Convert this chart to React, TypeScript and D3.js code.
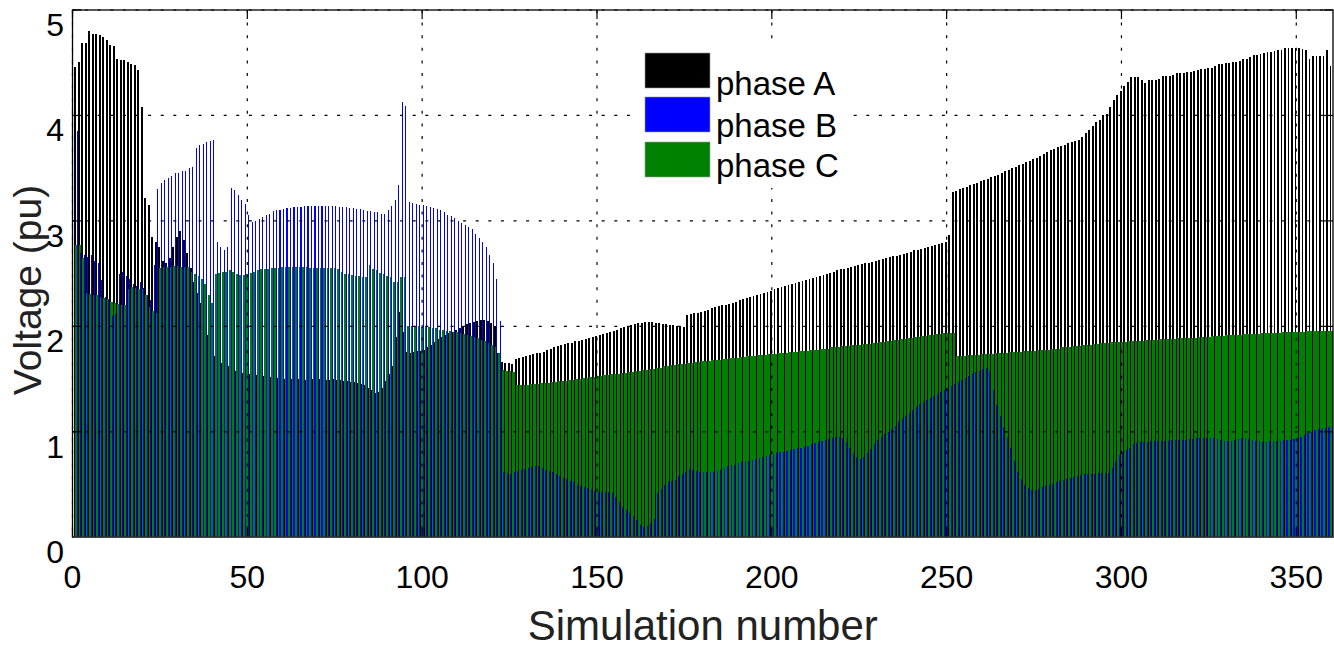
import React from 'react';
import * as d3 from 'd3';

// Simulation results (pu), simulations 1..360
const phaseA: number[] = [
  4.46, 4.51, 4.69, 4.69, 4.80, 4.77, 4.77, 4.76, 4.74, 4.72, 4.67, 4.66, 4.54, 4.53, 4.53, 4.51, 4.49, 4.48, 4.43, 4.08,
  3.22, 3.15, 2.85, 2.80, 2.75, 2.62, 2.60, 2.65, 2.75, 2.85, 2.90, 2.82, 2.70, 2.55, 2.42, 2.32, 2.22, 2.10, 1.92, 1.78,
  1.72, 1.68, 1.65, 1.63, 1.62, 1.60, 1.58, 1.57, 1.56, 1.55, 1.55, 1.54, 1.54, 1.53, 1.53, 1.52, 1.52, 1.52, 1.51, 1.51,
  1.50, 1.50, 1.50, 1.51, 1.50, 1.50, 1.49, 1.50, 1.50, 1.49, 1.50, 1.50, 1.49, 1.49, 1.50, 1.49, 1.49, 1.48, 1.48, 1.47,
  1.47, 1.46, 1.45, 1.44, 1.42, 1.40, 1.37, 1.38, 1.42, 1.48, 1.55, 1.62, 1.90, 2.14, 1.95, 1.76, 1.75, 1.76, 1.77, 1.77,
  1.78, 1.80, 1.82, 1.85, 1.88, 1.90, 1.92, 1.94, 1.95, 1.97, 1.98, 2.00, 2.02, 2.03, 2.04, 2.05, 2.06, 2.06, 2.05, 2.03,
  2.00, 1.75, 1.66, 1.65, 1.65, 1.64, 1.69, 1.70, 1.71, 1.72, 1.73, 1.74, 1.75, 1.75, 1.76, 1.78, 1.79, 1.80, 1.81, 1.82,
  1.83, 1.84, 1.84, 1.86, 1.86, 1.87, 1.88, 1.89, 1.90, 1.91, 1.92, 1.93, 1.94, 1.95, 1.96, 1.97, 1.98, 1.99, 2.00, 2.01,
  2.02, 2.03, 2.03, 2.04, 2.04, 2.04, 2.03, 2.03, 2.02, 2.02, 2.01, 2.01, 2.00, 2.00, 1.99, 2.11, 2.12, 2.13, 2.13, 2.14,
  2.15, 2.16, 2.17, 2.18, 2.19, 2.20, 2.20, 2.21, 2.22, 2.23, 2.25, 2.26, 2.27, 2.28, 2.29, 2.30, 2.31, 2.32, 2.33, 2.34,
  2.35, 2.36, 2.37, 2.38, 2.39, 2.40, 2.41, 2.42, 2.43, 2.44, 2.45, 2.46, 2.47, 2.48, 2.49, 2.50, 2.51, 2.52, 2.53, 2.54,
  2.54, 2.55, 2.56, 2.57, 2.58, 2.59, 2.60, 2.60, 2.61, 2.62, 2.63, 2.64, 2.65, 2.66, 2.67, 2.67, 2.68, 2.69, 2.70, 2.71,
  2.72, 2.72, 2.73, 2.74, 2.75, 2.76, 2.77, 2.78, 2.79, 2.80, 2.87, 3.27, 3.28, 3.30, 3.31, 3.32, 3.34, 3.35, 3.36, 3.38,
  3.39, 3.40, 3.42, 3.43, 3.44, 3.45, 3.47, 3.48, 3.50, 3.51, 3.53, 3.54, 3.56, 3.57, 3.59, 3.60, 3.62, 3.63, 3.65, 3.67,
  3.68, 3.70, 3.71, 3.72, 3.74, 3.75, 3.76, 3.77, 3.80, 3.83, 3.86, 3.90, 3.94, 3.96, 4.00, 4.01, 4.08, 4.15, 4.19, 4.23,
  4.28, 4.32, 4.36, 4.36, 4.36, 4.34, 4.31, 4.34, 4.34, 4.34, 4.35, 4.37, 4.37, 4.37, 4.38, 4.40, 4.40, 4.40, 4.41, 4.41,
  4.42, 4.43, 4.44, 4.44, 4.45, 4.45, 4.47, 4.49, 4.49, 4.50, 4.50, 4.51, 4.51, 4.52, 4.54, 4.54, 4.55, 4.57, 4.57, 4.58,
  4.59, 4.60, 4.60, 4.61, 4.62, 4.62, 4.64, 4.64, 4.64, 4.64, 4.64, 4.63, 4.62, 4.54, 4.56, 4.56, 4.56, 4.56, 4.62, 4.47,
];

const phaseB: number[] = [
  3.85, 2.70, 2.68, 2.66, 2.68, 2.62, 2.60, 2.44, 2.28, 2.25, 2.10, 2.12, 2.50, 2.52, 2.48, 2.45, 2.40, 2.38, 2.42, 2.36,
  2.30, 2.25, 2.58, 3.30, 3.36, 3.39, 3.41, 3.43, 3.45, 3.45, 3.47, 3.47, 3.50, 3.51, 3.69, 3.72, 3.73, 3.75, 3.76, 3.77,
  2.80, 2.75, 2.72, 2.75, 3.31, 3.29, 3.25, 3.20, 3.16, 3.06, 2.99, 3.00, 3.02, 3.04, 3.06, 3.07, 3.09, 3.10, 3.10, 3.11,
  3.12, 3.12, 3.13, 3.13, 3.13, 3.14, 3.14, 3.14, 3.14, 3.14, 3.14, 3.14, 3.14, 3.14, 3.14, 3.13, 3.13, 3.13, 3.12, 3.12,
  3.11, 3.11, 3.10, 3.09, 3.09, 3.08, 3.08, 3.07, 3.07, 3.10, 3.14, 3.20, 3.34, 4.13, 4.09, 3.18, 3.17, 3.16, 3.15, 3.15,
  3.14, 3.13, 3.12, 3.11, 3.10, 3.08, 3.06, 3.05, 3.03, 3.00, 2.98, 2.96, 2.94, 2.92, 2.88, 2.84, 2.80, 2.75, 2.68, 2.60,
  2.45, 2.05, 0.62, 0.61, 0.60, 0.62, 0.63, 0.64, 0.65, 0.66, 0.67, 0.68, 0.68, 0.66, 0.64, 0.63, 0.62, 0.60, 0.58, 0.56,
  0.55, 0.53, 0.52, 0.50, 0.49, 0.48, 0.47, 0.46, 0.44, 0.43, 0.43, 0.43, 0.43, 0.42, 0.38, 0.33, 0.29, 0.26, 0.23, 0.20,
  0.16, 0.12, 0.10, 0.11, 0.14, 0.17, 0.42, 0.46, 0.50, 0.52, 0.53, 0.54, 0.58, 0.60, 0.62, 0.65, 0.64, 0.63, 0.62, 0.62,
  0.62, 0.62, 0.62, 0.63, 0.64, 0.66, 0.68, 0.69, 0.69, 0.70, 0.71, 0.72, 0.72, 0.73, 0.74, 0.75, 0.76, 0.77, 0.78, 0.79,
  0.80, 0.81, 0.81, 0.82, 0.83, 0.84, 0.85, 0.85, 0.86, 0.87, 0.88, 0.89, 0.90, 0.91, 0.92, 0.93, 0.94, 0.95, 0.95, 0.94,
  0.90, 0.85, 0.80, 0.76, 0.74, 0.76, 0.80, 0.84, 0.88, 0.92, 0.95, 0.98, 1.00, 1.03, 1.06, 1.09, 1.12, 1.15, 1.18, 1.21,
  1.24, 1.26, 1.28, 1.30, 1.32, 1.34, 1.36, 1.38, 1.40, 1.41, 1.43, 1.45, 1.47, 1.49, 1.51, 1.53, 1.55, 1.57, 1.58, 1.60,
  1.61, 1.58, 1.40, 1.25, 1.15, 1.05, 0.95, 0.85, 0.72, 0.62, 0.55, 0.50, 0.47, 0.45, 0.45, 0.46, 0.48, 0.49, 0.50, 0.51,
  0.52, 0.53, 0.54, 0.55, 0.56, 0.57, 0.58, 0.59, 0.60, 0.60, 0.60, 0.60, 0.61, 0.61, 0.61, 0.61, 0.66, 0.72, 0.78, 0.81,
  0.83, 0.85, 0.88, 0.89, 0.90, 0.90, 0.90, 0.91, 0.91, 0.91, 0.91, 0.91, 0.91, 0.92, 0.92, 0.92, 0.92, 0.92, 0.93, 0.93,
  0.94, 0.94, 0.94, 0.94, 0.94, 0.94, 0.93, 0.92, 0.91, 0.91, 0.91, 0.92, 0.93, 0.94, 0.94, 0.93, 0.92, 0.91, 0.91, 0.90,
  0.90, 0.91, 0.91, 0.91, 0.91, 0.92, 0.92, 0.92, 0.93, 0.94, 0.95, 0.97, 0.99, 1.00, 1.02, 1.03, 1.03, 1.04, 1.05, 1.06,
];

const phaseC: number[] = [
  2.77, 2.77, 2.65, 2.32, 2.31, 2.30, 2.30, 2.28, 2.27, 2.26, 2.23, 2.22, 2.21, 2.20, 2.20, 2.35, 2.37, 2.36, 2.35, 2.35,
  2.30, 2.18, 2.15, 2.13, 2.55, 2.56, 2.56, 2.56, 2.57, 2.57, 2.56, 2.56, 2.56, 2.52, 2.50, 2.48, 2.45, 2.40, 2.30, 2.22,
  2.50, 2.51, 2.52, 2.52, 2.53, 2.52, 2.50, 2.49, 2.49, 2.50, 2.51, 2.52, 2.53, 2.54, 2.54, 2.54, 2.55, 2.55, 2.55, 2.56,
  2.56, 2.56, 2.56, 2.56, 2.56, 2.56, 2.56, 2.55, 2.55, 2.55, 2.55, 2.55, 2.55, 2.55, 2.55, 2.54, 2.52, 2.50, 2.50, 2.49,
  2.48, 2.48, 2.47, 2.47, 2.58, 2.54, 2.53, 2.51, 2.50, 2.48, 2.47, 2.42, 2.42, 2.47, 2.47, 2.00, 2.00, 2.00, 2.00, 1.99,
  1.99, 1.99, 1.98, 1.98, 1.97, 1.97, 1.96, 1.96, 1.95, 1.95, 1.94, 1.93, 1.92, 1.91, 1.90, 1.89, 1.87, 1.86, 1.84, 1.82,
  1.80, 1.75, 1.59, 1.58, 1.58, 1.57, 1.44, 1.44, 1.44, 1.44, 1.45, 1.45, 1.45, 1.46, 1.46, 1.46, 1.47, 1.47, 1.48, 1.48,
  1.48, 1.49, 1.49, 1.50, 1.50, 1.51, 1.51, 1.52, 1.52, 1.53, 1.53, 1.54, 1.54, 1.55, 1.55, 1.55, 1.56, 1.56, 1.57, 1.57,
  1.58, 1.58, 1.59, 1.59, 1.60, 1.60, 1.61, 1.61, 1.62, 1.62, 1.63, 1.63, 1.64, 1.64, 1.64, 1.65, 1.65, 1.66, 1.66, 1.67,
  1.67, 1.67, 1.68, 1.68, 1.68, 1.69, 1.69, 1.70, 1.70, 1.70, 1.71, 1.71, 1.72, 1.72, 1.72, 1.73, 1.73, 1.73, 1.74, 1.74,
  1.74, 1.75, 1.75, 1.75, 1.76, 1.76, 1.76, 1.77, 1.77, 1.77, 1.78, 1.78, 1.78, 1.79, 1.79, 1.79, 1.80, 1.80, 1.80, 1.81,
  1.81, 1.81, 1.82, 1.82, 1.82, 1.83, 1.83, 1.83, 1.84, 1.84, 1.85, 1.85, 1.86, 1.86, 1.87, 1.87, 1.88, 1.88, 1.89, 1.89,
  1.90, 1.90, 1.91, 1.91, 1.92, 1.92, 1.93, 1.93, 1.94, 1.94, 1.94, 1.94, 1.72, 1.72, 1.72, 1.73, 1.73, 1.73, 1.73, 1.74,
  1.74, 1.74, 1.74, 1.75, 1.75, 1.75, 1.75, 1.76, 1.76, 1.76, 1.76, 1.77, 1.77, 1.77, 1.77, 1.78, 1.78, 1.78, 1.78, 1.79,
  1.79, 1.79, 1.80, 1.80, 1.80, 1.81, 1.81, 1.81, 1.82, 1.82, 1.82, 1.83, 1.83, 1.84, 1.84, 1.84, 1.85, 1.85, 1.85, 1.85,
  1.85, 1.86, 1.86, 1.86, 1.86, 1.86, 1.87, 1.87, 1.87, 1.87, 1.88, 1.88, 1.88, 1.88, 1.88, 1.89, 1.89, 1.89, 1.89, 1.89,
  1.89, 1.90, 1.90, 1.90, 1.90, 1.91, 1.91, 1.91, 1.91, 1.92, 1.92, 1.92, 1.92, 1.92, 1.93, 1.93, 1.93, 1.93, 1.93, 1.94,
  1.94, 1.94, 1.94, 1.94, 1.94, 1.95, 1.95, 1.95, 1.95, 1.95, 1.95, 1.95, 1.96, 1.96, 1.96, 1.96, 1.96, 1.96, 1.96, 1.96,
];

const seriesNames = ['phase A', 'phase B', 'phase C'];
const seriesColors = ['#000000', '#0000ff', '#008000'];
const xTicks = [0, 50, 100, 150, 200, 250, 300, 350];
const yTicks = [0, 1, 2, 3, 4, 5];
const xLabel = 'Simulation number';
const yLabel = 'Voltage (pu)';

const FONT = '"Liberation Sans", Arial, Helvetica, sans-serif';

export default function App() {
  const W = 1334;
  const H = 651;
  const left = 72.5;
  const right = 1333;
  const top = 10;
  const bottom = 537.3;

  const x = d3.scaleLinear().domain([0, 360.5]).range([left, right]);
  const y = d3.scaleLinear().domain([0, 5]).range([bottom, top]);
  const sims = d3.range(1, phaseA.length + 1);

  // bar slot offsets within one simulation group (in x units); drawn A, then C, then B
  const slotA: [number, number] = [-0.5, 0.05];
  const slotC: [number, number] = [-0.25, 0.5];
  const slotB: [number, number] = [0.2, 0.5];

  const barPath = (vals: number[], slot: [number, number]) => {
    const p = d3.path();
    const yb = Math.round(y(0));
    sims.forEach((s, i) => {
      const x0 = Math.round(x(s + slot[0]));
      const x1 = Math.round(x(s + slot[1]));
      if (x1 <= x0) return;
      const y0 = Math.round(y(vals[i]));
      p.rect(x0, y0, x1 - x0, yb - y0);
    });
    return p.toString();
  };

  const tickLen = 9;

  return (
    <svg
      width={W}
      height={H}
      style={{ position: 'absolute', left: 0, top: 0, background: '#fff' }}
      fontFamily={FONT}
    >
      <rect x={0} y={0} width={W} height={H} fill="#fff" />
      {/* bars */}
      <g shapeRendering="crispEdges">
        <path d={barPath(phaseA, slotA)} fill={seriesColors[0]} />
        <path d={barPath(phaseC, slotC)} fill={seriesColors[2]} />
        <path d={barPath(phaseB, slotB)} fill={seriesColors[1]} />
      </g>

      {/* grid (on top, dotted) */}
      <g stroke="#000" strokeWidth={1.2} strokeDasharray="3 9.6">
        {xTicks.map((t) => (
          <line key={'gx' + t} x1={x(t)} x2={x(t)} y1={top} y2={bottom} />
        ))}
        {yTicks.map((t) => (
          <line key={'gy' + t} x1={left} x2={right} y1={y(t)} y2={y(t)} />
        ))}
      </g>

      {/* ticks */}
      <g stroke="#000" strokeWidth={1.2}>
        {xTicks.map((t) => (
          <g key={'tx' + t}>
            <line x1={x(t)} x2={x(t)} y1={bottom} y2={bottom - tickLen} />
            <line x1={x(t)} x2={x(t)} y1={top} y2={top + tickLen} />
          </g>
        ))}
        {yTicks.map((t) => (
          <g key={'ty' + t}>
            <line x1={left} x2={left + tickLen} y1={y(t)} y2={y(t)} />
            <line x1={right} x2={right - tickLen} y1={y(t)} y2={y(t)} />
          </g>
        ))}
      </g>

      {/* axes box */}
      <rect x={left} y={top} width={right - left} height={bottom - top} fill="none" stroke="#000" strokeWidth={1.3} />
      <line x1={left} x2={right} y1={bottom} y2={bottom} stroke="#444" strokeWidth={1.6} />

      {/* tick labels */}
      <g fontSize={32} fill="#000">
        {xTicks.map((t) => (
          <text key={'lx' + t} x={x(t)} y={588} textAnchor="middle">
            {t}
          </text>
        ))}
        {yTicks.map((t) => (
          <text key={'ly' + t} x={64} y={y(t) + 26} textAnchor="end">
            {t}
          </text>
        ))}
      </g>

      {/* axis labels */}
      <text x={(left + right) / 2} y={640} textAnchor="middle" fontSize={42} fill="#222">
        {xLabel}
      </text>
      <text
        transform={`translate(41, ${290}) rotate(-90)`}
        textAnchor="middle"
        fontSize={39}
        fill="#222"
      >
        {yLabel}
      </text>

      {/* legend */}
      <rect x={630} y={46} width={218} height={142} fill="#fff" />
      {seriesNames.map((name, i) => {
        const sy = [53, 97, 142][i];
        const ty = [95, 137, 177][i];
        return (
          <g key={name}>
            <rect x={645} y={sy} width={65} height={35} fill={seriesColors[i]} stroke="#999" strokeWidth={0.6} />
            <text x={716} y={ty} fontSize={33} fill="#000">
              {name}
            </text>
          </g>
        );
      })}
    </svg>
  );
}
